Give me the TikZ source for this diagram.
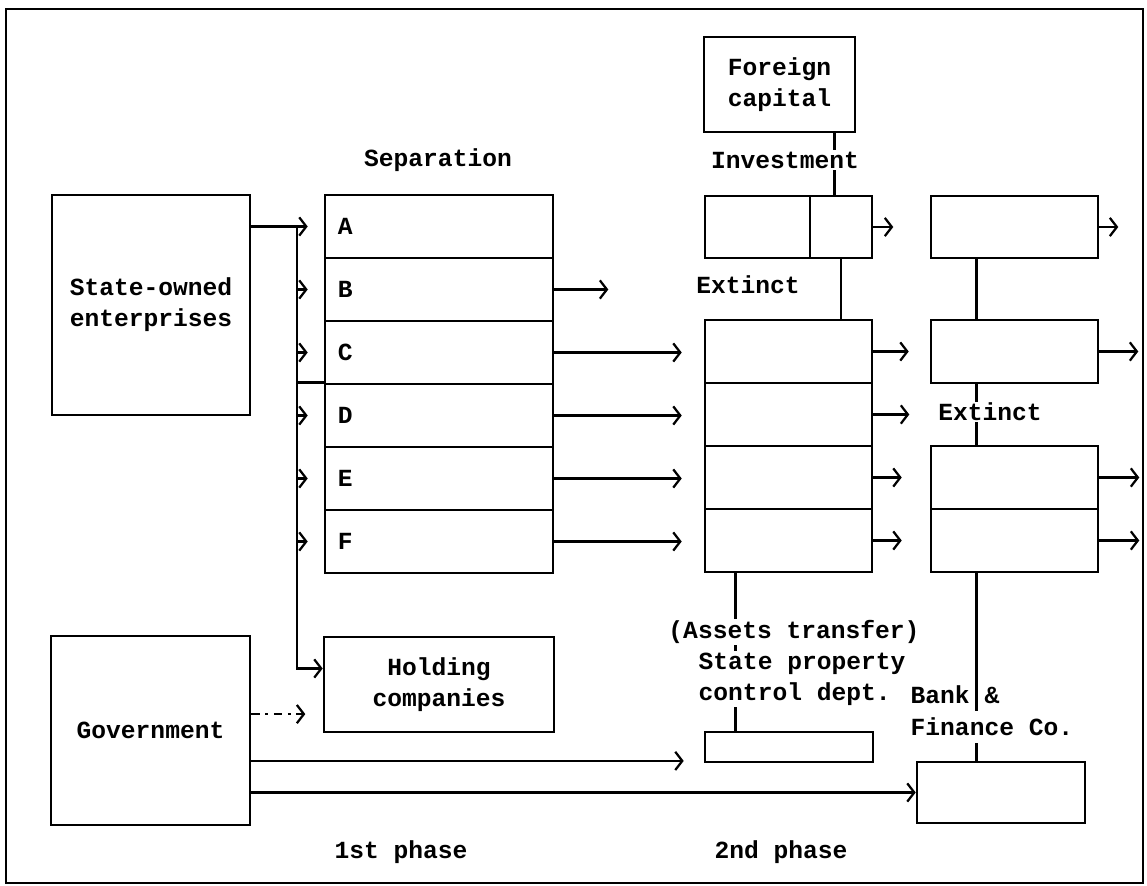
\documentclass[tikz,border=0pt]{standalone}
\usepackage{fontspec}
\setmainfont{Liberation Mono}
\usetikzlibrary{arrows.meta, calc}
\newcommand{\tw}{\fontsize{17.5}{22}\selectfont\bfseries}
\tikzset{
  blk/.style={
    rectangle, draw=black, line width=1.8pt, inner sep=0pt,
    align=center, font=\tw
  },
  slot/.style={
    blk, minimum height=1.575cm, text width=5.05cm,
    inner xsep=0.325cm, align=left
  },
  cellbox/.style={blk, minimum width=4.175cm, minimum height=1.575cm},
  lbl/.style={font=\tw, inner sep=1pt, align=center},
  ln/.style={line width=1.8pt, draw=black},
  arr/.style={-{Straight Barb[length=5pt, width=13pt, line width=1.6pt]}, line width=1.8pt, draw=black}
}
\begin{document}
\begin{tikzpicture}[x=0.025cm, y=-0.025cm]
  \useasboundingbox (0,0) rectangle (1147,886);
  \draw[line width=1.5pt] (6,9) rectangle (1143,883);

  \node[blk, minimum width=4.95cm, minimum height=5.5cm] (soe) at (151,305) {State-owned\\enterprises};
  \node[blk, minimum width=4.975cm, minimum height=4.725cm] (gov) at (150.5,730.5) {Government};
  \node[blk, minimum width=5.75cm, minimum height=2.375cm] (hold) at (439,684.5) {Holding\\companies};

  \foreach \l [count=\i from 0] in {A,B,C,D,E,F}
    \node[slot] (r\l) at (439,{226.5+63*\i}) {\l};

  \node[blk, minimum width=3.775cm, minimum height=2.375cm] (fc) at (779.5,84.5) {Foreign\\capital};
  \node[blk, minimum width=2.625cm, minimum height=1.55cm] (inv1) at (757.5,227) {};
  \node[blk, minimum width=1.55cm, minimum height=1.55cm] (inv2) at (841,227) {};
  \foreach \i in {0,...,3}
    \node[cellbox] (m\i) at (788.5,{351.5+63*\i}) {};
  \node[cellbox, minimum height=1.55cm] (rt1) at (1014.5,227) {};
  \node[cellbox] (rt2) at (1014.5,351.5) {};
  \node[cellbox] (rt3) at (1014.5,477.5) {};
  \node[cellbox] (rt4) at (1014.5,540.5) {};
  \node[blk, minimum width=4.2cm, minimum height=0.75cm] (spc) at (789,747) {};
  \node[blk, minimum width=4.2cm, minimum height=1.525cm] (bank) at (1001,792.5) {};

  \coordinate (trk) at (297,226.5);
  \draw[arr, shorten >=0.4cm] (soe.east |- rA.west) -- (rA.west);
  \draw[arr] (trk) |- ([yshift=0.4cm]hold.west);
  \foreach \l in {B,C,D,E,F}
    \draw[arr, shorten >=0.4cm] (trk |- r\l.west) -- (r\l.west);
  \draw[ln] (trk |- rD.north west) -- (rD.north west);

  \draw[arr] (rB.east) -- ([xshift=1.35cm]rB.east);
  \foreach \l/\i in {C/0,D/1,E/2,F/3}
    \draw[arr, shorten >=0.55cm] (r\l.east) -- (r\l.east -| m\i.west);

  \draw[ln] ([xshift=-0.55cm]fc.south east) -- ([xshift=-0.55cm]fc.south east |- inv2.north);
  \draw[arr] (inv2.east) -- ([xshift=0.5cm]inv2.east);
  \draw[ln] (inv2.south) -- (inv2.south |- m0.north);
  \draw[arr, shorten >=0.525cm] (m0.east) -- (rt2.west);
  \draw[arr] (m1.east) -- ([xshift=0.9cm]m1.east);
  \draw[arr, shorten >=0.7cm] (m2.east) -- (rt3.west);
  \draw[arr, shorten >=0.7cm] (m3.east) -- (rt4.west);

  \draw[ln] ([xshift=1.175cm]rt1.south west) -- ([xshift=1.175cm]rt1.south west |- rt2.north);
  \draw[ln] ([xshift=1.175cm]rt2.south west) -- ([xshift=1.175cm]rt2.south west |- rt3.north);
  \draw[arr] (rt1.east) -- ([xshift=0.475cm]rt1.east);
  \draw[arr] (rt2.east) -- ([xshift=0.975cm]rt2.east);
  \draw[arr] (rt3.east) -- ([xshift=1cm]rt3.east);
  \draw[arr] (rt4.east) -- ([xshift=1cm]rt4.east);

  \draw[ln] ([xshift=0.8cm]m3.south west) -- ([xshift=0.8cm]m3.south west |- spc.north);
  \draw[ln] ([xshift=1.175cm]rt4.south west) -- ([xshift=1.175cm]rt4.south west |- bank.north);

  \draw[arr, dash pattern=on 6pt off 4pt on 2pt off 4pt] ([yshift=0.41cm]gov.east) -- ([yshift=0.41cm, xshift=1.35cm]gov.east);
  \draw[arr, shorten >=0.5cm] ([yshift=-0.76cm]gov.east) -- ([yshift=-0.76cm]gov.east -| spc.west);
  \draw[arr] (gov.east |- bank.west) -- (bank.west);

  \node[lbl] (sepl) at (438,160) {Separation};
  \node[lbl, fill=white] (invl) at (785,160) {Investment};
  \node[lbl] (ext1) at (748,285) {Extinct};
  \node[lbl, fill=white] (ext2) at (990,412) {Extinct};
  \node[lbl, fill=white] (astl) at (794,632) {(Assets transfer)};
  \node[lbl, fill=white, anchor=west, align=left] (spcl) at (697,679) {State property\\control dept.};
  \node[lbl, anchor=west] (bnk1) at (909,695) {Bank \&};
  \node[lbl, fill=white, anchor=west, inner ysep=5pt] (bnk2) at (909,727) {Finance Co.};
  \node[lbl] (ph1) at (401,852) {1st phase};
  \node[lbl] (ph2) at (781,852) {2nd phase};
\end{tikzpicture}
\end{document}
